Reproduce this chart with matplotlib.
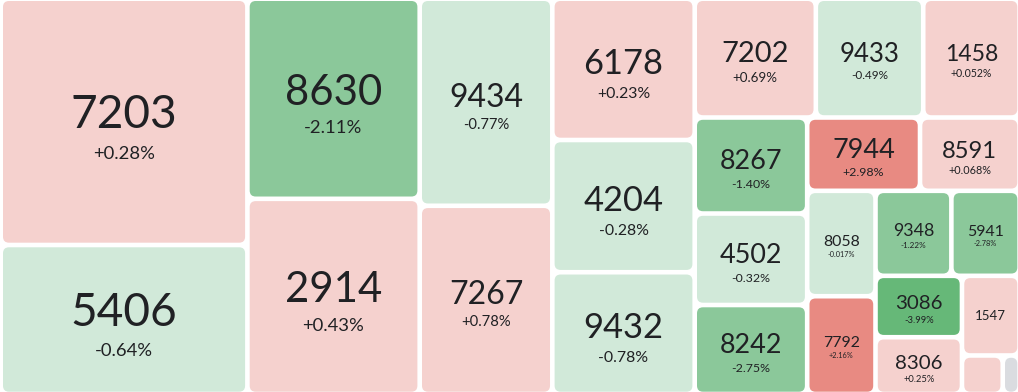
import matplotlib
matplotlib.use("Agg")
import matplotlib.pyplot as plt
from matplotlib.patches import FancyBboxPatch

# tiles in layout order (stock code, weight, daily change in %)
codes = ["7203", "5406", "8630", "2914", "9434", "7267", "6178", "4204", "9432",
         "7202", "9433", "1458", "8267", "4502", "8242", "7944", "8591",
         "8058", "7792", "9348", "5941", "3086", "8306", "1547", "", ""]
weights = [60760, 36760, 34480, 33630, 27460, 24960, 20120, 18830, 17340,
           14390, 12760, 11450, 10800, 10290, 10010, 8270, 7300,
           7200, 6680, 6450, 5800, 5310, 4910, 4590, 1570, 650]
# 1547 and the small tile at the bottom show no label: value estimated from colour
changes = [0.28, -0.64, -2.11, 0.43, -0.77, 0.78, 0.23, -0.28, -0.78,
           0.69, -0.49, 0.052, -1.40, -0.32, -2.75, 2.98, 0.068,
           -0.017, 2.16, -1.22, -2.78, -3.99, 0.25, 0.5, 0.5, None]


def squarify(values, x0, y0, x1, y1, ratio=1.0):
    # same idea as d3.treemapSquarify
    rects = []
    total = float(sum(values))
    i0, n = 0, len(values)
    while i0 < n:
        dx, dy = x1 - x0, y1 - y0
        s = values[i0]
        i1 = i0 + 1
        vmin = vmax = s
        alpha = max(dy / dx, dx / dy) / (total * ratio)
        beta = s * s * alpha
        best = max(vmax / beta, beta / vmin)
        while i1 < n:
            v = values[i1]
            s2 = s + v
            beta = s2 * s2 * alpha
            r = max(max(vmax, v) / beta, beta / min(vmin, v))
            if r > best:
                break
            s = s2
            vmin, vmax = min(vmin, v), max(vmax, v)
            best = r
            i1 += 1
        row = values[i0:i1]
        if dx < dy:
            h = dy * s / total
            x = x0
            for v in row:
                w = dx * v / s
                rects.append((x, y0, w, h))
                x += w
            y0 += h
        else:
            w = dx * s / total
            y = y0
            for v in row:
                h = dy * v / s
                rects.append((x0, y, w, h))
                y += h
            x0 += w
        total -= s
        i0 = i1
    return rects


def tile_colour(c):
    if c is None:
        return "#dadce0"
    if c >= 2:
        return "#e88a82"
    if c >= 1:
        return "#eeaea8"
    if c >= 0:
        return "#f5d1ce"
    if c > -1:
        return "#d1e9d9"
    if c > -3:
        return "#8bc89a"
    return "#66b878"


def fmt(c):
    sign = "+" if c >= 0 else "-"
    a = abs(c)
    return sign + (f"{a:.3f}" if a < 0.1 else f"{a:.2f}") + "%"


plt.rcParams['font.family'] = ['Lato', 'DejaVu Sans']

fig = plt.figure(figsize=(10.18, 3.92), dpi=100)
ax = fig.add_axes([0, 0, 1, 1])
ax.set_xlim(0, 1018)
ax.set_ylim(392, 0)
ax.axis('off')

pad = 2.3
rects = squarify(weights, 0.7, -1.3, 1019.6, 394)

for (x, y, w, h), code, c in zip(rects, codes, changes):
    x, y, w, h = x + pad, y + pad, w - 2 * pad, h - 2 * pad
    ax.add_patch(FancyBboxPatch((x, y), w, h,
                                boxstyle="round,pad=0,rounding_size=6",
                                lw=0, fc=tile_colour(c)))
    cx, cy = x + w / 2, y + h / 2
    px = min(0.25 * w, 46)
    if px < 10 or not code:
        continue
    cap = 0.717 * px
    ppx = min(0.115 * w, 18.5)
    if c is not None and w >= 58:
        ax.text(cx, cy + 0.2 * cap, code, ha='center', va='baseline',
                fontsize=px * 0.72, color='#202124')
        ax.text(cx, cy + 0.92 * cap + 0.717 * ppx / 2, fmt(c), ha='center',
                va='baseline', fontsize=ppx * 0.72, color='#202124')
    else:
        ax.text(cx, cy + cap / 2, code, ha='center', va='baseline',
                fontsize=px * 0.72, color='#202124')

fig.savefig("out.png", dpi=100)
